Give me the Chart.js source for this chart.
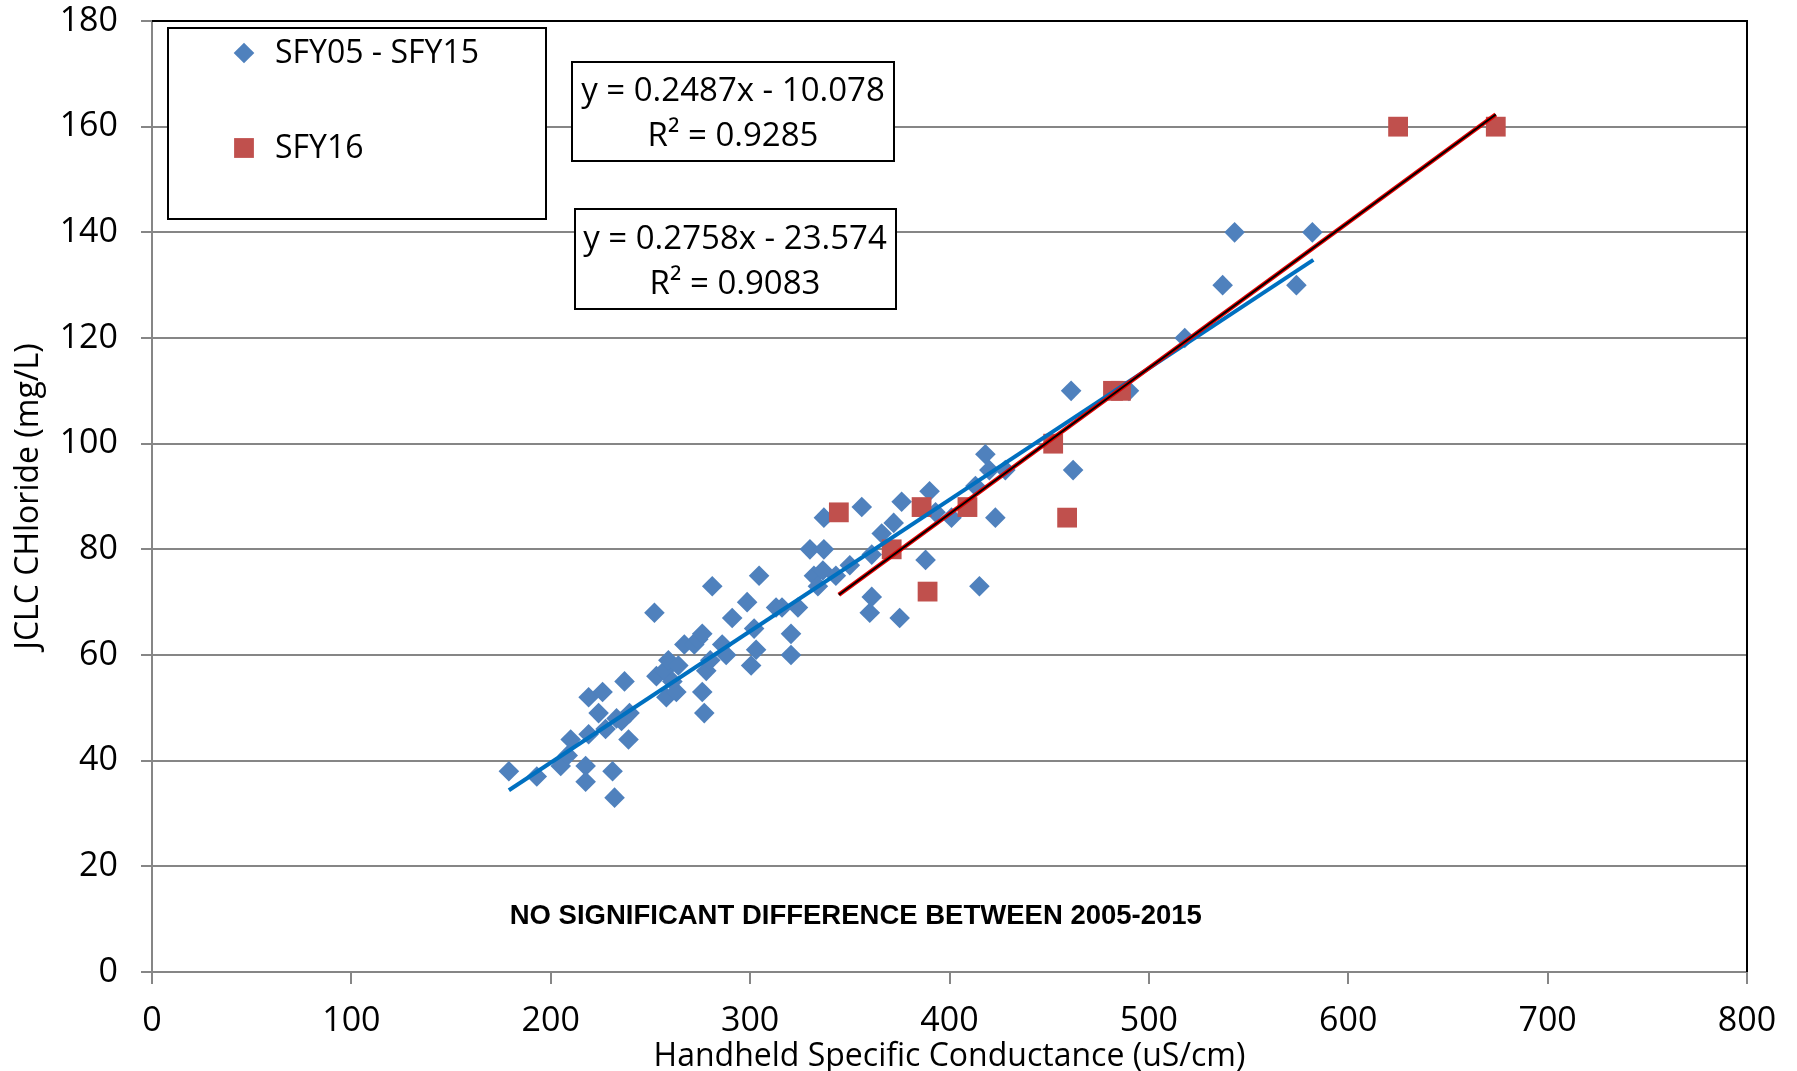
<!DOCTYPE html>
<html>
<head>
<meta charset="utf-8">
<script src="https://cdn.jsdelivr.net/npm/chart.js@4/dist/chart.umd.min.js"></script>
<style>
html,body{margin:0;padding:0;background:#fff;overflow:hidden}
#wrap{width:1797px;height:1071px;position:relative}
</style>
</head>
<body>
<div id="wrap"><canvas id="c" width="1797" height="1071"></canvas></div>
<script>
// ---- data ----
const seriesNames = ['SFY05 - SFY15', 'SFY16'];
const sfy0515X = [179, 193, 205, 208.5, 210, 217.5, 217.5, 219, 219, 224, 226, 227.5, 231, 232, 233, 235.5, 237, 239.5, 239, 252, 253, 257, 259, 258, 261, 264, 263, 267, 272, 274, 276, 276, 277, 278, 280, 281, 286, 288, 291, 298.5, 300.5, 302, 303, 304.5, 313, 316, 320.5, 320.5, 324, 330, 332, 334, 336.5, 337, 337, 343, 350, 356, 360, 361, 361, 366, 372, 376, 375, 388, 390, 393, 401, 413, 415, 418, 420, 423, 428, 461, 462, 490, 518, 537, 543, 574, 582];
const sfy0515Y = [38, 37, 39, 41, 44, 39, 36, 52, 45, 49, 53, 46, 38, 33, 48, 47.5, 55, 49, 44, 68, 56, 57, 59, 52, 55, 58, 53, 62, 62, 63, 64, 53, 49, 57, 59, 73, 62, 60, 67, 70, 58, 65, 61, 75, 69, 69, 64, 60, 69, 80, 75, 73, 76, 80, 86, 75, 77, 88, 68, 71, 79, 83, 85, 89, 67, 78, 91, 87, 86, 92, 73, 98, 95, 86, 95, 110, 95, 110, 120, 130, 140, 130, 140];
const sfy16X = [344.5, 371, 386, 389, 409, 452, 459, 482, 486, 625, 674];
const sfy16Y = [87, 80, 88, 72, 88, 100, 86, 110, 110, 160, 160];
// trend line end points as seen in the picture
const trend0515X = [179, 582.5];
const trend0515Y = [34.4, 134.8];
const trend16X = [344.5, 674];
const trend16Y = [71.4, 162.3];
// axes
const xTicks = [0, 100, 200, 300, 400, 500, 600, 700, 800];
const yTicks = [0, 20, 40, 60, 80, 100, 120, 140, 160, 180];
const xTitle = 'Handheld Specific Conductance (uS/cm)';
const yTitle = 'JCLC CHloride (mg/L)';
// annotations
const eq0515 = ['y = 0.2487x - 10.078', 'R\u00B2 = 0.9285'];
const eq16 = ['y = 0.2758x - 23.574', 'R\u00B2 = 0.9083'];
const noteText = 'NO SIGNIFICANT DIFFERENCE BETWEEN 2005-2015';
const notePos = [179.4, 10.6];

const pts = (xs, ys) => xs.map((v, i) => ({x: v, y: ys[i]}));

const BLUE = '#4F81BD', RED = '#C0504D', GRID = '#868686';
const diamondStyle = {pointStyle: 'rectRot', radius: 10.3, rotation: 0, borderWidth: 0};
const squareStyle = {pointStyle: 'rect', radius: 14, rotation: 0, borderWidth: 0};

const extras = {
  id: 'extras',
  afterDraw(chart) {
    const {ctx, chartArea: a, scales: {x, y}} = chart;
    ctx.save();
    // plot frame (top & right, black)
    ctx.strokeStyle = '#000';
    ctx.lineWidth = 2;
    ctx.beginPath();
    ctx.moveTo(a.left, a.top);
    ctx.lineTo(a.right, a.top);
    ctx.lineTo(a.right, a.bottom);
    ctx.stroke();

    const box = (l, t, w, h) => {
      ctx.fillStyle = '#fff';
      ctx.fillRect(l, t, w, h);
      ctx.strokeStyle = '#000';
      ctx.lineWidth = 2;
      ctx.strokeRect(l, t, w, h);
    };
    // legend
    box(168, 28, 378, 191);
    ctx.fillStyle = BLUE;
    Chart.helpers.drawPoint(ctx, diamondStyle, 244, 53);
    ctx.fillStyle = RED;
    Chart.helpers.drawPoint(ctx, squareStyle, 244, 148);
    ctx.fillStyle = '#000';
    ctx.font = '32px "Open Sans"';
    ctx.textAlign = 'left';
    ctx.textBaseline = 'middle';
    ctx.fillText(seriesNames[0], 275, 54);
    ctx.fillText(seriesNames[1], 275, 149);

    // equation boxes
    ctx.font = '33px "Open Sans"';
    ctx.textAlign = 'center';
    box(572, 62, 322, 99);
    ctx.fillStyle = '#000';
    ctx.fillText(eq0515[0], 733, 92);
    ctx.fillText(eq0515[1], 733, 137);
    box(575, 209, 321, 100);
    ctx.fillStyle = '#000';
    ctx.fillText(eq16[0], 735, 240);
    ctx.fillText(eq16[1], 735, 285);

    // note
    ctx.font = 'bold 27.5px "Liberation Sans"';
    ctx.textAlign = 'left';
    ctx.fillText(noteText, x.getPixelForValue(notePos[0]), y.getPixelForValue(notePos[1]));
    ctx.restore();
  }
};

function make() {
  new Chart(document.getElementById('c'), {
    type: 'scatter',
    data: {
      datasets: [
        {label: 'trend16core', data: pts(trend16X, trend16Y), showLine: true, pointRadius: 0, borderColor: '#000', borderWidth: 2, order: 0},
        {label: 'trend16', data: pts(trend16X, trend16Y), showLine: true, pointRadius: 0, borderColor: '#E00000', borderWidth: 4.5, order: 1},
        {label: 'trend0515', data: pts(trend0515X, trend0515Y), showLine: true, pointRadius: 0, borderColor: '#0070C0', borderWidth: 4, order: 2},
        {label: seriesNames[1], data: pts(sfy16X, sfy16Y), pointStyle: 'rect', pointRadius: 14, backgroundColor: RED, borderWidth: 0, order: 3},
        {label: seriesNames[0], data: pts(sfy0515X, sfy0515Y), pointStyle: 'rectRot', pointRadius: 10.3, backgroundColor: BLUE, borderWidth: 0, order: 4}
      ]
    },
    options: {
      responsive: false,
      animation: false,
      events: [],
      layout: {padding: {top: 21, right: 50, bottom: 0, left: 0}},
      plugins: {legend: {display: false}, tooltip: {enabled: false}},
      scales: {
        x: {
          type: 'linear', min: 0, max: 800,
          afterBuildTicks: s => { s.ticks = xTicks.map(v => ({value: v})); },
          afterFit: s => { s.height = 99; s.paddingLeft = 0; s.paddingRight = 0; },
          grid: {drawOnChartArea: false, drawTicks: true, tickLength: 12, color: GRID, lineWidth: 2},
          border: {display: true, color: GRID, width: 2},
          ticks: {color: '#000', font: {family: 'Open Sans', size: 34}, padding: 17, maxRotation: 0, autoSkip: false},
          title: {display: true, text: xTitle, color: '#000', font: {family: 'Open Sans', size: 32, lineHeight: 0.9}, padding: {top: 0, bottom: 0}}
        },
        y: {
          type: 'linear', min: 0, max: 180,
          afterBuildTicks: s => { s.ticks = yTicks.map(v => ({value: v})); },
          afterFit: s => { s.width = 152; s.paddingTop = 0; s.paddingBottom = 0; },
          grid: {drawOnChartArea: true, drawTicks: true, tickLength: 11, color: GRID, lineWidth: 2},
          border: {display: true, color: GRID, width: 2},
          ticks: {color: '#000', font: {family: 'Open Sans', size: 34}, padding: 23, autoSkip: false},
          title: {display: true, text: yTitle, color: '#000', font: {family: 'Open Sans', size: 32, lineHeight: 1.2}, padding: {top: 10, bottom: 0}}
        }
      }
    },
    plugins: [extras]
  });
}

const fontLoads = ['30px "Open Sans"', 'bold 27.5px "Liberation Sans"'].map(f => document.fonts.load(f).catch(() => null));
Promise.all(fontLoads).then(make, make);
</script>
</body>
</html>
